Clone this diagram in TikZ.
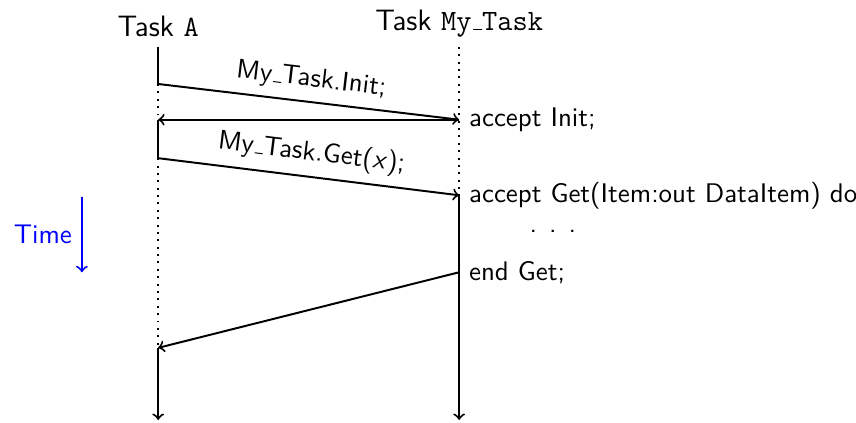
\documentclass[11pt,tikz,border=0pt]{standalone}
\usepackage{tikz}
\renewcommand{\familydefault}{\sfdefault}
\usetikzlibrary{calc}
% short underscore made of a rule
\newcommand{\usc}{\leavevmode\kern.06em\vbox{\hrule width.3em}}

\begin{document}
\begin{tikzpicture}[thick, wait/.style={dash pattern=on 0.8pt off 2.2pt}]
\useasboundingbox (0,0) rectangle (12.23,-6.04);

% life lines
\coordinate (a0) at (2.26,-0.67);
\coordinate (a1) at (2.26,-1.2);
\coordinate (a2) at (2.26,-1.71);
\coordinate (a3) at (2.26,-2.26);
\coordinate (a4) at (2.26,-4.97);
\coordinate (a5) at (2.26,-6.0);
\coordinate (b0) at (6.56,-0.67);
\coordinate (b1) at (6.56,-1.71);
\coordinate (b2) at (6.56,-2.79);
\coordinate (b3) at (6.56,-3.89);
\coordinate (b4) at (6.56,-6.0);

\node[above, font=\large] (taskA) at (a0) {Task \texttt{A}};
\node[above, font=\large] (taskB) at (b0) {Task \texttt{My\usc Task}};

\draw (a0) -- (a1);
\draw[wait] (a1) -- (a2);
\draw (a2) -- (a3);
\draw[wait] (a3) -- (a4);
\draw[->] (a4) -- (a5);
\draw[wait] (b0) -- (b2);
\draw[->] (b2) -- (b4);

% entry calls
\draw[->] (a1) -- node[above, sloped] (init) {My\usc Task.Init;} (b1);
\draw[->] (b1) -- (a2);
\draw[->] (a3) -- node[above, sloped] (get) {My\usc Task.Get(\textsl{x});} (b2);
\draw[->] (b3) -- (a4);

\node[right] (acc1) at (b1) {accept Init;};
\node[right] (acc2) at (b2) {accept Get(Item:out DataItem) do};
\node (body) at (7.9,-3.3) {. . .};
\node[right] (endget) at (b3) {end Get;};

% time axis
\coordinate (t0) at (1.17,-2.81);
\coordinate (t1) at (1.17,-3.89);
\draw[->, blue] (t0) -- (t1);
\node[left, blue] (time) at ($(t0)!0.5!(t1)$) {Time};
\end{tikzpicture}
\end{document}
